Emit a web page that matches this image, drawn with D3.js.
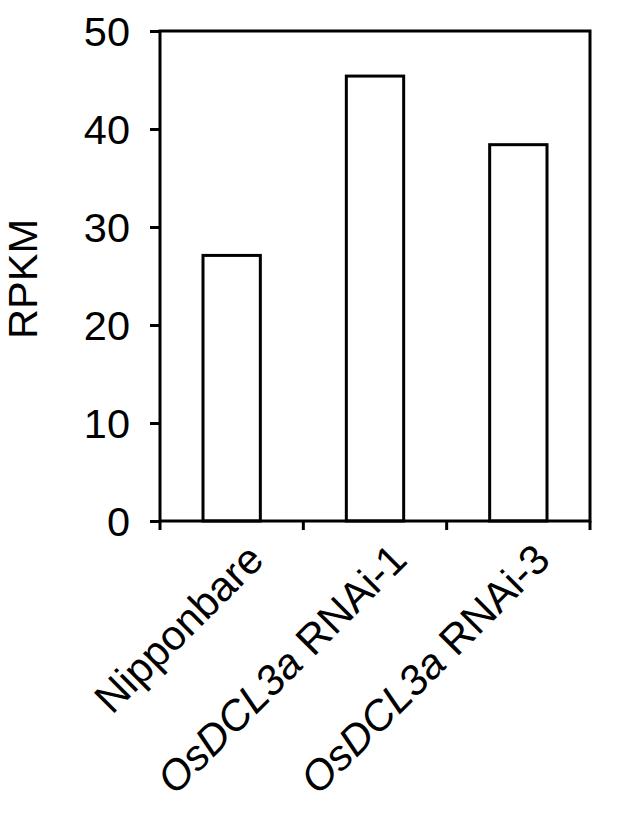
<!DOCTYPE html>
<html>
<head>
<meta charset="utf-8">
<script src="https://cdn.jsdelivr.net/npm/d3@7"></script>
<style>
  html, body { margin: 0; padding: 0; background: #fff; }
  svg { display: block; }
  text { font-family: "Liberation Sans", Arial, sans-serif; fill: #000; }
</style>
</head>
<body>
<svg id="chart" width="617" height="813"></svg>
<script>
// ---- data ----
const categoriesItalic = ["", "OsDCL3a", "OsDCL3a"];
const categoriesPlain  = ["Nipponbare", " RNAi-1", " RNAi-3"];
const categories = ["Nipponbare", "OsDCL3a RNAi-1", "OsDCL3a RNAi-3"];
const values = [27.1, 45.4, 38.4];
const yTicks = [0, 10, 20, 30, 40, 50];
const yLabel = "RPKM";

// ---- layout ----
const svg = d3.select("#chart");
const mLeft = 160, mRight = 590, mTop = 31, mBottom = 521;
const sw = 3;

const x = d3.scaleBand().domain(categories).range([mLeft, mRight])
  .paddingInner(0.6).paddingOuter(0.3);
const xb = d3.scaleLinear().domain([0, categories.length]).range([mLeft, mRight]);
const y = d3.scaleLinear().domain([0, 50]).range([mBottom, mTop]);

// bars
svg.append("g").selectAll("rect").data(values).join("rect")
  .attr("x", (d, i) => x(categories[i]))
  .attr("y", d => y(d))
  .attr("width", x.bandwidth())
  .attr("height", d => y(0) - y(d))
  .attr("fill", "#fff")
  .attr("stroke", "#000")
  .attr("stroke-width", sw);

// frame
svg.append("rect")
  .attr("x", mLeft).attr("y", mTop)
  .attr("width", mRight - mLeft).attr("height", mBottom - mTop)
  .attr("fill", "none").attr("stroke", "#000").attr("stroke-width", sw);

// y axis ticks + labels
const yAxis = d3.axisLeft(y).tickValues(yTicks).tickSize(10).tickPadding(20)
  .tickFormat(d3.format("d"));
const gy = svg.append("g").attr("transform", `translate(${mLeft},0)`).call(yAxis);
gy.select(".domain").remove();
gy.selectAll(".tick line").attr("stroke", "#000").attr("stroke-width", sw);
gy.selectAll(".tick text")
  .attr("font-size", 41.5)
  .attr("font-family", "Liberation Sans, Arial, sans-serif")
  .attr("fill", "#000")
  .attr("dy", "0.36em");

// x boundary ticks
svg.append("g").selectAll("line").data(d3.range(categories.length + 1)).join("line")
  .attr("x1", d => xb(d)).attr("x2", d => xb(d))
  .attr("y1", mBottom).attr("y2", mBottom + 9)
  .attr("stroke", "#000").attr("stroke-width", sw);

// x labels
const xl = svg.append("g").selectAll("text").data(categories).join("text")
  .attr("transform", d => `translate(${x(d) + x.bandwidth() / 2 + 34},562) rotate(-45)`)
  .attr("text-anchor", "end")
  .attr("font-size", 42);
xl.append("tspan").attr("font-style", "italic").text((d, i) => categoriesItalic[i]);
xl.append("tspan").text((d, i) => categoriesPlain[i]);

// y title
svg.append("text")
  .attr("transform", `translate(37,${(mTop + mBottom) / 2 + 3}) rotate(-90)`)
  .attr("text-anchor", "middle")
  .attr("font-size", 41.5)
  .text(yLabel);
</script>
</body>
</html>
